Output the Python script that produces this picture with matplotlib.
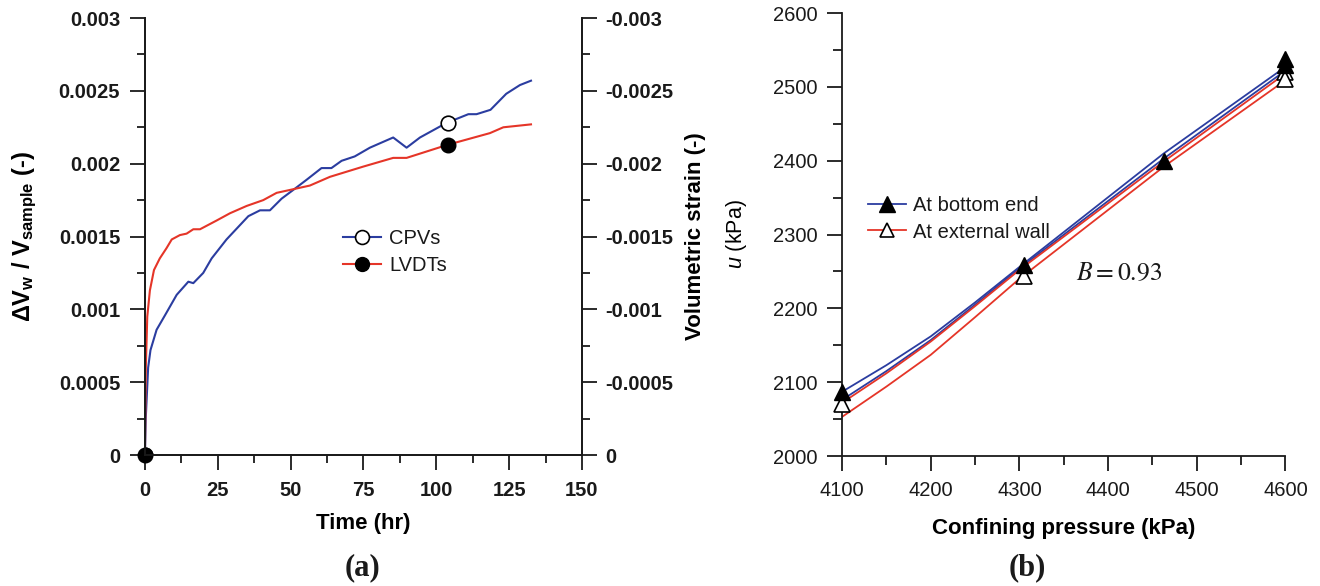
import matplotlib

matplotlib.use("Agg")
import matplotlib.pyplot as plt
from matplotlib.ticker import MultipleLocator, FuncFormatter

# ---- data -----------------------------------------------------------------
# (a) water volume change vs time
cpv_time = [0, 0.3, 1.1, 1.9, 4.0, 6.9, 10.9, 14.9, 16.6, 20.0, 22.9, 28.0, 35.5,
            39.5, 42.9, 46.9, 50.9, 55.5, 60.6, 64.0, 67.5, 72.0, 77.2, 85.2, 89.8,
            94.4, 103.5, 111.0, 113.8, 118.6, 124.0, 128.7, 132.5]
cpv_dv = [0, 0.00026, 0.00060, 0.00072, 0.00086, 0.00096, 0.00110, 0.00119, 0.00118,
          0.00125, 0.00135, 0.00148, 0.00164, 0.00168, 0.00168, 0.00176, 0.00182,
          0.00189, 0.00197, 0.00197, 0.00202, 0.00205, 0.00211, 0.00218, 0.00211,
          0.00218, 0.00228, 0.00234, 0.00234, 0.00237, 0.00248, 0.00254, 0.00257]
lvdt_time = [0, 0.3, 0.8, 1.7, 3.1, 5.1, 7.4, 9.2, 12.0, 14.3, 16.6, 18.9, 24.6,
             29.2, 34.9, 40.6, 45.2, 49.8, 56.6, 63.5, 74.9, 85.2, 89.8, 103.9,
             118.4, 123.0, 132.5]
lvdt_dv = [0, 0.00060, 0.00095, 0.00113, 0.00127, 0.00135, 0.00142, 0.00148, 0.00151,
           0.00152, 0.00155, 0.00155, 0.00161, 0.00166, 0.00171, 0.00175, 0.00180,
           0.00182, 0.00185, 0.00191, 0.00198, 0.00204, 0.00204, 0.00213, 0.00221,
           0.00225, 0.00227]
cpv_mark_t = [0, 103.9]
cpv_mark_v = [0, 0.00228]
lvdt_mark_t = [0, 103.9]
lvdt_mark_v = [0, 0.00213]

# (b) pore pressure vs confining pressure
conf_p = [4100, 4150, 4200, 4250, 4300, 4463, 4600]
bottom_u1 = [2087, 2123, 2162, 2208, 2256, 2410, 2527]
bottom_u2 = [2076, 2115, 2157, 2205, 2254, 2403, 2522]
wall_u1 = [2072, 2112, 2155, 2203, 2252, 2399, 2518]
wall_u2 = [2053, 2094, 2137, 2188, 2240, 2392, 2509]
bottom_mark_p = [4100, 4305, 4463, 4600, 4600]
bottom_mark_u = [2087, 2259, 2399, 2538, 2530]
wall_mark_p = [4100, 4305, 4600, 4600]
wall_mark_u = [2071, 2244, 2520, 2511]

BLUE = "#2B3DA0"
RED = "#E53528"
INK = "#1a1a1a"

plt.rcParams.update({
    "font.family": ["Liberation Sans", "DejaVu Sans"],
    "mathtext.fontset": "custom",
    "mathtext.rm": "Liberation Sans",
    "mathtext.it": "Liberation Sans:italic",
    "mathtext.bf": "Liberation Sans:bold",
    "axes.linewidth": 1.3,
    "axes.edgecolor": INK,
    "xtick.color": INK,
    "ytick.color": INK,
    "text.color": INK,
})

plain = FuncFormatter(lambda v, p: "0" if abs(v) < 1e-12 else f"{v:g}")

fig = plt.figure(figsize=(13.2, 5.86), dpi=100)
ax1 = fig.add_axes([0.1098, 0.2235, 0.3311, 0.7457])
ax2 = fig.add_axes([0.6379, 0.2218, 0.3359, 0.7560])

# ---- panel (a) ------------------------------------------------------------
ax1.plot(cpv_time, cpv_dv, color=BLUE, lw=1.5, zorder=2)
ax1.plot(lvdt_time, lvdt_dv, color=RED, lw=1.5, zorder=2)
ax1.plot(cpv_mark_t, cpv_mark_v, ls="none", marker="o", ms=10.5, mfc="white",
         mec="black", mew=1.2, zorder=3)
ax1.plot(lvdt_mark_t, lvdt_mark_v, ls="none", marker="o", ms=10.5, mfc="black",
         mec="black", zorder=4, clip_on=False)
ax1.plot([], [], color=BLUE, lw=1.5, marker="o", ms=10, mfc="white", mec="black",
         mew=1.2, label="CPVs")
ax1.plot([], [], color=RED, lw=1.5, marker="o", ms=10, mfc="black", mec="black",
         label="LVDTs")

ax1.set_xlim(0, 150)
ax1.set_ylim(0, 0.003)
ax1.xaxis.set_major_locator(MultipleLocator(25))
ax1.xaxis.set_minor_locator(MultipleLocator(12.5))
ax1.yaxis.set_major_locator(MultipleLocator(0.0005))
ax1.yaxis.set_minor_locator(MultipleLocator(0.00025))
ax1.yaxis.set_major_formatter(plain)
ax1.spines["top"].set_visible(False)
ax1.tick_params(which="major", length=10.8, width=1.3, labelsize=14.5, pad=7)
ax1.tick_params(axis="x", which="major", pad=8)
ax1.tick_params(which="minor", length=5.8, width=1.3)
ax1.set_xlabel("Time (hr)", fontsize=16, fontweight="bold", labelpad=9)
ax1.set_ylabel(r"$\mathbf{\Delta V_{w}\ /\ V_{sample}}$ (-)", fontsize=17,
               fontweight="bold", labelpad=14)

ax1.legend(loc="upper left", bbox_to_anchor=(0.43, 0.54), frameon=False,
           fontsize=14.5, handlelength=1.9, handletextpad=0.4,
           labelspacing=0.38, borderpad=0)

# right axis: volumetric strain (negative up)
ax1r = ax1.twinx()
ax1r.set_ylim(0, -0.003)
ax1r.yaxis.set_major_locator(MultipleLocator(0.0005))
ax1r.yaxis.set_minor_locator(MultipleLocator(0.00025))
ax1r.yaxis.set_major_formatter(plain)
ax1r.spines["top"].set_visible(False)
ax1r.tick_params(which="major", length=10.8, width=1.3, labelsize=14.5, pad=6)
ax1r.tick_params(which="minor", length=5.8, width=1.3)
ax1r.set_ylabel("Volumetric strain (-)", fontsize=16, fontweight="bold",
                rotation=90, labelpad=8)

fig.text(0.2745, 0.031, "(a)", family="Liberation Serif", fontweight="bold",
         fontsize=22, ha="center", va="center")

# ---- panel (b) ------------------------------------------------------------
ax2.plot(conf_p, bottom_u1, color=BLUE, lw=1.3, zorder=2)
ax2.plot(conf_p, bottom_u2, color=BLUE, lw=1.3, zorder=2)
ax2.plot(conf_p, wall_u1, color=RED, lw=1.3, zorder=2)
ax2.plot(conf_p, wall_u2, color=RED, lw=1.3, zorder=2)
ax2.plot(wall_mark_p, wall_mark_u, ls="none", marker="^", ms=11, mfc="white",
         mec="black", mew=1.2, zorder=3, clip_on=False)
ax2.plot(bottom_mark_p, bottom_mark_u, ls="none", marker="^", ms=11, mfc="black",
         mec="black", zorder=4, clip_on=False)
ax2.plot([], [], color=BLUE, lw=1.3, marker="^", ms=11, mfc="black", mec="black",
         label="At bottom end")
ax2.plot([], [], color=RED, lw=1.3, marker="^", ms=10, mfc="white", mec="black",
         mew=1.2, label="At external wall")

ax2.set_xlim(4100, 4600)
ax2.set_ylim(2000, 2600)
ax2.xaxis.set_major_locator(MultipleLocator(100))
ax2.xaxis.set_minor_locator(MultipleLocator(50))
ax2.yaxis.set_major_locator(MultipleLocator(100))
ax2.yaxis.set_minor_locator(MultipleLocator(50))
ax2.spines["top"].set_visible(False)
ax2.spines["right"].set_visible(False)
ax2.tick_params(which="major", length=10.8, width=1.3, labelsize=14.5, pad=7)
ax2.tick_params(which="minor", length=6.5, width=1.3)
ax2.set_xlabel("Confining pressure (kPa)", fontsize=16, fontweight="bold", labelpad=13)
ax2.set_ylabel(r"$u$ (kPa)", fontsize=15.5, labelpad=17)

ax2.legend(loc="upper left", bbox_to_anchor=(0.035, 0.61), frameon=False,
           fontsize=14.5, handlelength=1.9, handletextpad=0.35,
           labelspacing=0.38, borderpad=0)

ax2.text(4412, 2248, r"$B = 0.93$", math_fontfamily="stix", fontsize=18.5,
         ha="center", va="center", color=INK)

fig.text(0.778, 0.031, "(b)", family="Liberation Serif", fontweight="bold",
         fontsize=22, ha="center", va="center")

# bold tick labels on panel (a) only
fig.canvas.draw()
for lab in ax1.get_xticklabels() + ax1.get_yticklabels() + ax1r.get_yticklabels():
    lab.set_fontweight("bold")

fig.savefig("out.png", dpi=100, facecolor="white")
